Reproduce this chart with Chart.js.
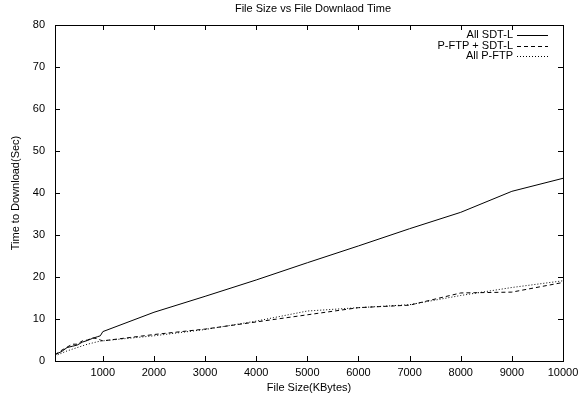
<!DOCTYPE html>
<html>
<head>
<meta charset="utf-8">
<script src="https://cdn.jsdelivr.net/npm/chart.js@4"></script>
<style>
  html, body { margin: 0; padding: 0; background: #fff; }
</style>
</head>
<body>
<canvas id="chart" width="579" height="400"></canvas>
<script>
// data
const fileSizes = [64, 100, 200, 300, 400, 500, 600, 700, 800, 900, 950, 1000,
  2000, 3000, 4000, 5000, 6000, 7000, 8000, 9000, 10000];
const allSdtL = [1.5, 1.7, 2.3, 3.2, 3.5, 3.8, 4.5, 4.9, 5.4, 5.8, 6.0, 7.0,
  11.6, 15.4, 19.3, 23.4, 27.4, 31.5, 35.4, 40.4, 43.5];
const pftpSdtL = [1.5, 1.8, 2.6, 3.3, 4.0, 4.0, 4.8, 5.0, 5.5, 5.3, 5.0, 4.8,
  6.3, 7.6, 9.3, 11.0, 12.7, 13.3, 16.2, 16.4, 18.7];
const allPftp = [1.2, 1.4, 1.9, 2.4, 2.8, 3.2, 3.6, 4.0, 4.3, 4.6, 4.7, 4.8,
  6.0, 7.5, 9.5, 11.9, 12.7, 13.4, 15.6, 17.5, 19.1];
const seriesNames = ['All SDT-L', 'P-FTP + SDT-L', 'All P-FTP'];
const seriesDash = [[], [4, 3], [1, 2]];
const xTicks = [1000, 2000, 3000, 4000, 5000, 6000, 7000, 8000, 9000, 10000];
const yTicks = [0, 10, 20, 30, 40, 50, 60, 70, 80];

const FONT = { family: '"Liberation Sans", Arial, sans-serif', size: 11 };

function pts(ys) {
  return fileSizes.map((x, i) => ({ x: x, y: ys[i] }));
}

// box, inward ticks on all sides, key and title (gnuplot style)
const gnuFrame = {
  id: 'gnuFrame',
  afterDatasetsDraw(chart) {
    const { ctx, chartArea: a, scales } = chart;
    ctx.save();
    ctx.strokeStyle = '#000';
    ctx.lineWidth = 1;
    ctx.setLineDash([]);
    ctx.strokeRect(a.left + 0.5, a.top + 0.5, a.right - a.left, a.bottom - a.top);

    const len = 5;
    ctx.beginPath();
    xTicks.forEach(v => {
      const px = Math.round(scales.x.getPixelForValue(v)) + 0.5;
      ctx.moveTo(px, a.bottom); ctx.lineTo(px, a.bottom - len);
      ctx.moveTo(px, a.top); ctx.lineTo(px, a.top + len);
    });
    yTicks.forEach(v => {
      const py = Math.round(scales.y.getPixelForValue(v)) + 0.5;
      ctx.moveTo(a.left, py); ctx.lineTo(a.left + len, py);
      ctx.moveTo(a.right, py); ctx.lineTo(a.right - len, py);
    });
    ctx.stroke();

    // key
    ctx.font = `${FONT.size}px ${FONT.family}`;
    ctx.fillStyle = '#000';
    ctx.textAlign = 'right';
    ctx.textBaseline = 'middle';
    seriesNames.forEach((name, i) => {
      const y = 35 + i * 10.5;
      ctx.fillText(name, 513, y);
      ctx.beginPath();
      ctx.setLineDash(seriesDash[i]);
      ctx.moveTo(517, Math.round(y) + 0.5);
      ctx.lineTo(548, Math.round(y) + 0.5);
      ctx.stroke();
    });
    ctx.setLineDash([]);

    // title
    ctx.textAlign = 'center';
    ctx.fillText('File Size vs File Downlaod Time', 313, 9);
    ctx.restore();
  }
};

const ctx = document.getElementById('chart');
new Chart(ctx, {
  type: 'line',
  data: {
    datasets: [allSdtL, pftpSdtL, allPftp].map((ys, i) => ({
      label: seriesNames[i],
      data: pts(ys),
      borderColor: '#000',
      borderWidth: 1,
      borderDash: seriesDash[i],
      pointRadius: 0,
      fill: false,
      tension: 0
    }))
  },
  options: {
    responsive: false,
    animation: false,
    layout: { padding: { top: 25, right: 16, left: 0, bottom: 0 } },
    plugins: {
      legend: { display: false },
      title: { display: false },
      tooltip: { enabled: false }
    },
    scales: {
      x: {
        type: 'linear',
        min: 64,
        max: 10000,
        grid: { display: false, drawTicks: false },
        border: { display: false },
        afterBuildTicks: s => { s.ticks = xTicks.map(v => ({ value: v })); },
        afterFit: s => { s.height = 39; s.paddingLeft = 0; s.paddingRight = 0; },
        ticks: { color: '#000', font: FONT, padding: 5, maxRotation: 0, autoSkip: false,
          callback: v => String(v) },
        title: { display: true, text: 'File Size(KBytes)', color: '#000', font: FONT, padding: { top: 0, bottom: 5 } }
      },
      y: {
        type: 'linear',
        min: 0,
        max: 80,
        grid: { display: false, drawTicks: false },
        border: { display: false },
        afterBuildTicks: s => { s.ticks = yTicks.map(v => ({ value: v })); },
        afterFit: s => { s.width = 55; },
        ticks: { color: '#000', font: FONT, padding: 10, callback: v => String(v) },
        title: { display: true, text: 'Time to Download(Sec)', color: '#000', font: FONT, padding: { top: 9, bottom: 0 } }
      }
    }
  },
  plugins: [gnuFrame]
});
</script>
</body>
</html>
